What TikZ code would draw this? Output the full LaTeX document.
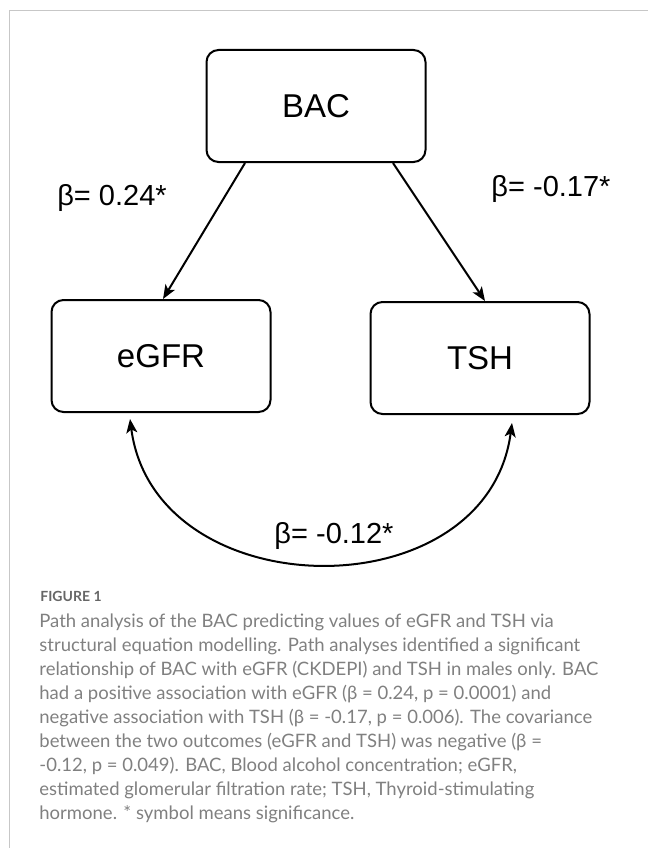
\documentclass[tikz,border=0pt]{standalone}
\usepackage{fontspec}
\setmainfont{Liberation Sans}
\newfontfamily\capfont{Lato}
\usetikzlibrary{arrows.meta}

\begin{document}
\begin{tikzpicture}[node distance=250pt, thick,
    var/.style = {draw, line width=2pt, rounded corners=12pt, minimum width=219pt, minimum height=112pt, font=\fontsize{33}{40}\selectfont},
    beta/.style = {font=\fontsize{29}{34}\selectfont},
    path/.style = {line width=2pt, >={Stealth[length=14pt, width=11pt, inset=3.5pt]}}]
    \useasboundingbox (0pt,0pt) rectangle (648pt,-848pt);
    \draw[black!22, line width=1pt] (9pt,-848pt) -- (9pt,-11pt) -- (648pt,-11pt);

    \node[var] (1) at (316pt,-106pt)                    {BAC};
    \node[var] (2) [below of=1, xshift=-155pt]          {eGFR};
    \node[var] (3) [below of=1, xshift=164pt, yshift=-2pt] {TSH};

    \draw[path, ->] ([xshift=-71pt]1.south) to node[midway, beta, xshift=-92pt, yshift=33pt] {β= 0.24*} ([xshift=2pt]2.north);
    \draw[path, ->] ([xshift=77pt]1.south) to node[midway, beta, xshift=112pt, yshift=43pt] {β= -0.17*} ([xshift=5pt]3.north);

    \coordinate (l) at ([xshift=-31pt, yshift=-6pt]2.south);
    \coordinate (r) at ([xshift=32pt, yshift=-8pt]3.south);
    \draw[path, <->] (l) .. controls +(25pt,-190pt) and +(-25pt,-190pt) .. node[midway, beta, xshift=13pt, yshift=28pt] {β= -0.12*} (r);

    % caption
    \node[anchor=north west, inner sep=0pt, text=black!60, font=\capfont\bfseries\fontsize{14}{17}\selectfont] (4) at (40pt,-591pt) {FIGURE 1};
    \node[anchor=north west, inner sep=0pt, align=left, text=black!50, font=\capfont\fontsize{18.5}{24}\selectfont] (5) at (39pt,-613pt) {Path analysis of the BAC predicting values of eGFR and TSH via\\
        structural equation modelling. Path analyses identified a significant\\
        relationship of BAC with eGFR (CKDEPI) and TSH in males only. BAC\\
        had a positive association with eGFR (β = 0.24, p = 0.0001) and\\
        negative association with TSH (β = -0.17, p = 0.006). The covariance\\
        between the two outcomes (eGFR and TSH) was negative (β =\\
        -0.12, p = 0.049). BAC, Blood alcohol concentration; eGFR,\\
        estimated glomerular filtration rate; TSH, Thyroid-stimulating\\
        hormone. * symbol means significance.};
\end{tikzpicture}
\end{document}
